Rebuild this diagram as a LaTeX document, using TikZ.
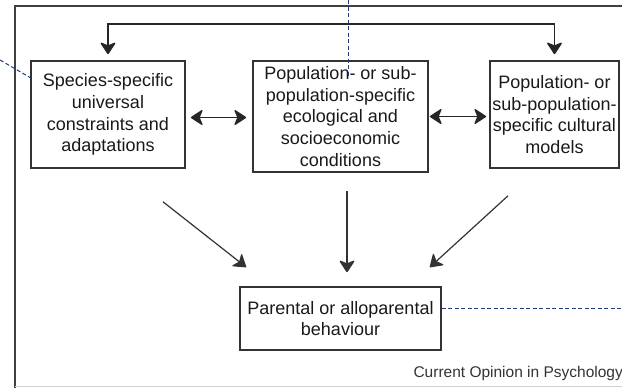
\documentclass[tikz,border=0pt]{standalone}
\usepackage{fontspec}
\setmainfont{Liberation Sans}
\usetikzlibrary{positioning, arrows.meta, calc}
\definecolor{leaderblue}{HTML}{1F3A7A}

\begin{document}
\begin{tikzpicture}[
    x=1pt, y=1pt,
    font=\fontsize{18}{21.7}\selectfont,
    head/.tip={Stealth[length=13pt, width=17pt, inset=3.5pt, round]},
    factor/.style={
        draw=black!80, line width=1.6pt,
        align=center, inner sep=0pt, text=black!90,
    },
    link/.style={-head, line width=1.2pt, draw=black!80},
    both/.style={head-head, line width=1.3pt, draw=black!85},
    frame/.style={line width=1.8pt, draw=black!75},
    leader/.style={line width=1pt, draw=leaderblue, dash pattern=on 4pt off 2.5pt},
]

\useasboundingbox (0,0) rectangle (622,-388);

% outer frame
\draw[frame] (15,-388) -- (15,-6) -- (622,-6);
\draw[line width=1pt, draw=black!18] (15,-386) -- (622,-386);

% boxes
\node[factor, minimum width=154pt, minimum height=107pt] (species) at (108,-114.5)
    {Species-specific\\universal\\constraints and\\adaptations};
\node[factor, minimum width=175pt, minimum height=111pt] (ecology) at (340.5,-116.5)
    {Population- or sub-\\population-specific\\ecological and\\socioeconomic\\conditions};
\node[factor, minimum width=129pt, minimum height=107pt] (culture) at (554.5,-114.5)
    {Population- or\\sub-population-\\specific cultural\\models};
\node[factor, minimum width=201pt, minimum height=63pt] (behaviour) at (340.5,-318.5)
    {Parental or alloparental\\behaviour};

% arrows
\draw[both, line width=1.5pt, shorten <=6pt, shorten >=6pt]
    (species.north) -- ++(0,36) -| (culture.north);
\draw[both, shorten <=5pt, shorten >=6pt]
    ($(species.east)+(0,-3)$) -- ($(species.east -| ecology.west)+(0,-3)$);
\draw[both, shorten <=1pt, shorten >=3pt]
    (ecology.east) -- (ecology.east -| culture.west);

\draw[link] ($(species.south)+(55,-33)$) -- ($(behaviour.north west)+(7,19)$);
\draw[link, line width=1.5pt] ($(ecology.south)+(6.5,-18)$) -- ($(behaviour.north)+(6.5,14)$);
\draw[link] ($(culture.south)+(-46.5,-27)$) -- ($(behaviour.north east)+(-12,19)$);

% leader lines
\coordinate (topend) at (348,0);
\coordinate (leftend) at (0,-60);
\coordinate (rightend) at (622,-308);
\draw[leader] (topend) -- ($(ecology.north)+(7.5,-17)$);
\draw[leader] (leftend) -- ($(species.north west)+(1,-18)$);
\draw[leader] ($(behaviour.east)+(0,10.5)$) -- (rightend);

\node[anchor=base west, font=\fontsize{15.5}{18}\selectfont, text=black!80]
    (source) at (410,-377) {Current Opinion in Psychology};

\end{tikzpicture}
\end{document}
